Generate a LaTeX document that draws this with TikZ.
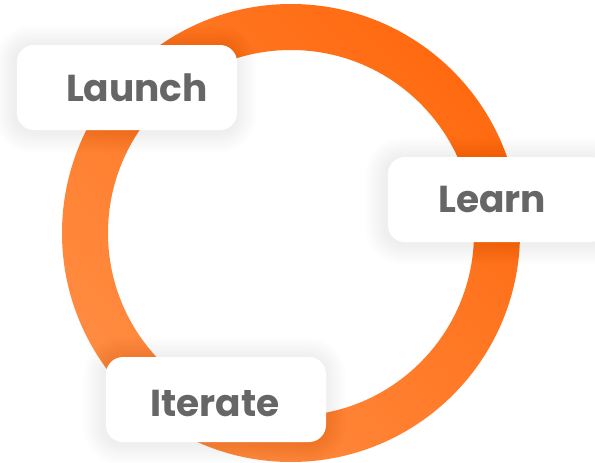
\documentclass[tikz,border=0pt]{standalone}
\usepackage{fontspec}
\setmainfont{Poppins}
\usetikzlibrary{calc}
\definecolor{ringdark}{HTML}{FF6A10}
\definecolor{ringlight}{HTML}{FF8C42}
\definecolor{labelgray}{HTML}{666666}
\pgfdeclarelayer{shadowlayer}
\pgfdeclarelayer{ringlayer}
\pgfsetlayers{ringlayer,shadowlayer,main}
\tikzset{
  labelbox/.style={fill=white, rounded corners=17pt, minimum width=220pt, minimum height=85pt, inner sep=0pt},
  labeltext/.style={font=\bfseries\fontsize{37.5}{40}\selectfont, text=labelgray, inner sep=0pt, anchor=center}
}
\newcommand{\softshadow}[1]{%
  \foreach \i [evaluate=\i as \r using 17+1.3*\i, evaluate=\i as \d using 1.3*\i] in {1,...,16}{
    \fill[black, opacity=0.0035, rounded corners=\r pt]
      ($(#1.north west)+(-\d-2,-\d+1)$) rectangle ($(#1.south east)+(\d-1,\d+2)$);
  }%
}
\begin{document}
\begin{tikzpicture}[x=1pt,y=-1pt]
\clip (0,0) rectangle (595,463);
\useasboundingbox (0,0) rectangle (595,463);
\coordinate (c) at (291,233);
\begin{pgfonlayer}{ringlayer}
\shade[even odd rule, left color=ringlight, right color=ringdark, shading angle=135]
  (c) circle[radius=229] (c) circle[radius=183];
\end{pgfonlayer}
\node[labelbox] (launchbox) at (127,87.5) {};
\node[labelbox] (learnbox) at (498,199.5) {};
\node[labelbox] (iteratebox) at (216,399.5) {};
\node[labeltext] (launch) at (137,88) {Launch};
\node[labeltext] (learn) at (492,199) {Learn};
\node[labeltext] (iterate) at (215,403) {Iterate};
\begin{pgfonlayer}{shadowlayer}
\softshadow{launchbox}
\softshadow{learnbox}
\softshadow{iteratebox}
\end{pgfonlayer}
\end{tikzpicture}
\end{document}
